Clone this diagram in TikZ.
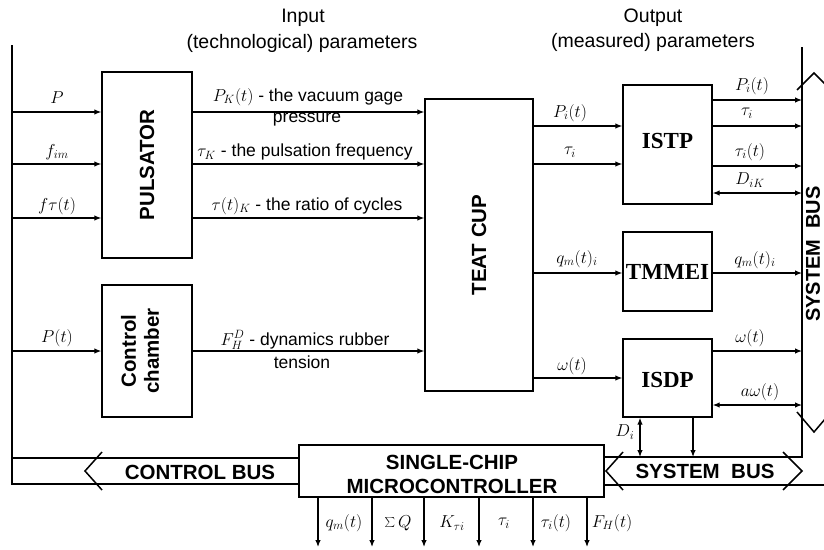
\documentclass[tikz,border=0pt]{standalone}
\usepackage{fontspec}
\setmainfont{Liberation Sans}
\newfontfamily\serifbf{Liberation Serif}
\usetikzlibrary{arrows.meta}
\begin{document}
\begin{tikzpicture}[x=1pt,y=-1pt,
  box/.style={draw,line width=1.4pt,inner sep=0pt},
  arr/.style={line width=1.2pt,-{Latex[length=7pt,width=5.5pt]}},
  darr/.style={line width=1.2pt,{Latex[length=7pt,width=5.5pt]}-{Latex[length=7pt,width=5.5pt]}},
  bus/.style={line width=1.5pt},
  lab/.style={font=\fontsize{17.5}{20}\selectfont,inner sep=0pt},
  mlab/.style={font=\fontsize{18}{20}\selectfont,inner sep=0pt},
  bsans/.style={font=\fontsize{20.5}{24}\selectfont\bfseries,inner sep=0pt,align=center},
  bserif/.style={font=\fontsize{23}{26}\selectfont\serifbf\bfseries,inner sep=0pt},
  head/.style={font=\fontsize{19.5}{23}\selectfont,inner sep=0pt}]
\useasboundingbox (0,0) rectangle (824,549);

% headings
\node[head] (h1) at (303,18) {Input};
\node[head] (h2) at (302,43) {(technological) parameters};
\node[head] (h3) at (653,18) {Output};
\node[head] (h4) at (653,42) {(measured) parameters};

% boxes
\node[box,minimum width=90pt,minimum height=186pt] (puls) at (147,165) {};
\node[bsans,rotate=90] (pulsT) at (puls.center) {PULSATOR};
\node[box,minimum width=90pt,minimum height=132pt] (cham) at (147,351) {};
\node[bsans,rotate=90,font=\fontsize{20.5}{23}\selectfont\bfseries] (chamT) at (140,351) {Control\\chamber};
\node[box,minimum width=108pt,minimum height=292pt] (teat) at (479,245) {};
\node[bsans,rotate=90] (teatT) at (teat.center) {TEAT CUP};
\node[box,minimum width=89pt,minimum height=119pt] (istp) at (667.5,144.5) {};
\node[bserif] (istpT) at (667.5,141) {ISTP};
\node[box,minimum width=89pt,minimum height=79pt] (tmm) at (667.5,271.5) {};
\node[bserif] (tmmT) at (667.5,272) {TMMEI};
\node[box,minimum width=89pt,minimum height=78pt] (isdp) at (667.5,378) {};
\node[bserif] (isdpT) at (667.5,380) {ISDP};
\node[box,minimum width=305pt,minimum height=52pt] (mcu) at (451.5,471) {};
\node[bsans,font=\fontsize{20.5}{24}\selectfont\bfseries] (mcuT) at (452,474) {SINGLE-CHIP\\MICROCONTROLLER};

% buses
\draw[bus] (12,45) -- (12,484) -- (mcu.west |- 0,484);
\draw[bus] (12,458) -- (mcu.west |- 0,458);
\draw[bus] (102,452) -- (85,471) -- (102,490);
\node[bsans] (cbus) at (200,472) {CONTROL BUS};
\draw[bus] (802,47) -- (802,457) -- (mcu.east |- 0,457);
\draw[bus] (mcu.east |- 0,485) -- (824,485);
\draw[bus] (623,452) -- (606,471) -- (623,490);
\draw[bus] (783,452) -- (802,471) -- (783,490);
\node[bsans] (sbus) at (705,471) {SYSTEM\ \ BUS};
\draw[bus] (797,90) -- (814,73) -- (831,90);
\draw[bus] (797,412) -- (814,432) -- (831,412);
\node[bsans,rotate=90,font=\fontsize{20}{24}\selectfont\bfseries] (vbus) at (813,254) {SYSTEM\ \ BUS};

% left bus coordinates
\coordinate (lb1) at (12,112);
\coordinate (lb2) at (12,164);
\coordinate (lb3) at (12,218);
\coordinate (lb4) at (12,351);
\draw[arr] (lb1) -- (puls.west |- lb1);
\draw[arr] (lb2) -- (puls.west |- lb2);
\draw[arr] (lb3) -- (puls.west |- lb3);
\draw[arr] (lb4) -- (cham.west |- lb4);
\node[mlab] (l1) at (57,98) {$P$};
\node[mlab] (l2) at (57,152) {$f_{im}$};
\node[mlab] (l3) at (57,206) {$f\tau(t)$};
\node[mlab] (l4) at (57,338) {$P(t)$};

% pulsator -> teat cup
\draw[arr] (puls.east |- lb1) -- (teat.west |- lb1);
\draw[arr] (puls.east |- lb2) -- (teat.west |- lb2);
\draw[arr] (puls.east |- lb3) -- (teat.west |- lb3);
\draw[arr] (cham.east |- lb4) -- (teat.west |- lb4);
\node[lab] (p1) at (308,97) {$P_K(t)$ - the vacuum gage};
\node[lab] (p1b) at (307,120) {pressure};
\node[lab] (p2) at (305,152) {$\tau_K$ - the pulsation frequency};
\node[lab] (p3) at (307,206) {$\tau(t)_K$ - the ratio of cycles};
\node[lab] (p4) at (305,340) {$F_H^D$ - dynamics rubber};
\node[lab] (p4b) at (302,362) {tension};

% teat cup -> instruments
\coordinate (to1) at (533,126);
\coordinate (to2) at (533,164);
\coordinate (to3) at (533,273);
\coordinate (to4) at (533,378);
\draw[arr] (to1) -- (istp.west |- to1);
\draw[arr] (to2) -- (istp.west |- to2);
\draw[arr] (to3) -- (tmm.west |- to3);
\draw[arr] (to4) -- (isdp.west |- to4);
\node[mlab] (t1) at (570,113) {$P_i(t)$};
\node[mlab] (t2) at (570,152) {$\tau_i$};
\node[mlab] (t3) at (577,259) {$q_m(t)_i$};
\node[mlab] (t4) at (572,366) {$\omega(t)$};

% instruments -> system bus
\coordinate (rb1) at (802,100);
\coordinate (rb2) at (802,126);
\coordinate (rb3) at (802,166);
\coordinate (rb4) at (802,193);
\coordinate (rb5) at (802,273);
\coordinate (rb6) at (802,351);
\coordinate (rb7) at (802,405);
\draw[arr] (istp.east |- rb1) -- (rb1);
\draw[arr] (istp.east |- rb2) -- (rb2);
\draw[arr] (istp.east |- rb3) -- (rb3);
\draw[darr] (istp.east |- rb4) -- (rb4);
\draw[arr] (tmm.east |- rb5) -- (rb5);
\draw[arr] (isdp.east |- rb6) -- (rb6);
\draw[darr] (isdp.east |- rb7) -- (rb7);
\node[mlab] (r1) at (752,86) {$P_i(t)$};
\node[mlab] (r2) at (747,113) {$\tau_i$};
\node[mlab] (r3) at (750,152) {$\tau_i(t)$};
\node[mlab] (r4) at (750,180) {$D_{iK}$};
\node[mlab] (r5) at (755,260) {$q_m(t)_i$};
\node[mlab] (r6) at (750,338) {$\omega(t)$};
\node[mlab] (r7) at (760,392) {$a\omega(t)$};

% ISDP -> system bus
\coordinate (sb1) at (640,457);
\coordinate (sb2) at (693,457);
\draw[darr] (isdp.south -| sb1) -- (sb1);
\draw[arr] (isdp.south -| sb2) -- (sb2);
\node[mlab] (sbl) at (625,432) {$D_i$};

% microcontroller outputs
\coordinate (d1) at (318,547);
\coordinate (d2) at (372,547);
\coordinate (d3) at (424,547);
\coordinate (d4) at (479,547);
\coordinate (d5) at (533,547);
\coordinate (d6) at (587,547);
\foreach \d in {d1,d2,d3,d4,d5,d6} \draw[arr] (mcu.south -| \d) -- (\d);
\node[mlab] (o1) at (344,523) {$q_m(t)$};
\node[mlab] (o2) at (398,523) {$\sum Q$};
\node[mlab] (o3) at (452,523) {$K_{\tau i}$};
\node[mlab] (o4) at (504,523) {$\tau_i$};
\node[mlab] (o5) at (556,523) {$\tau_i(t)$};
\node[mlab] (o6) at (612,523) {$F_H(t)$};
\end{tikzpicture}
\end{document}
